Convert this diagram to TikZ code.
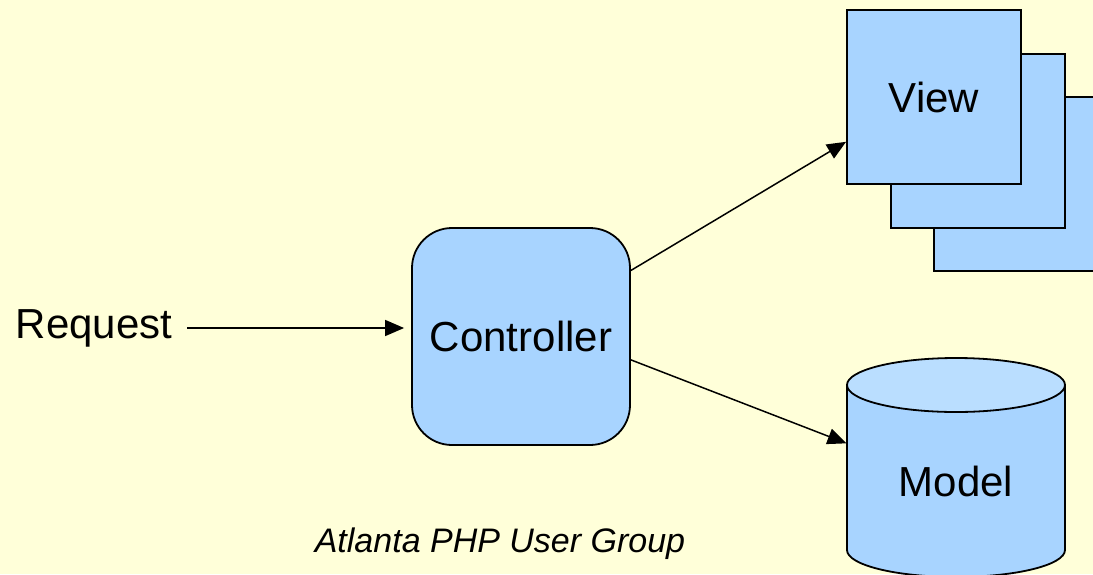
\documentclass[tikz,border=0pt]{standalone}
\usepackage{fontspec}
\setmainfont{Liberation Sans}
\usepackage{tikz}
\usetikzlibrary{arrows.meta,calc}
\definecolor{slidebg}{RGB}{255,255,217}
\definecolor{boxblue}{RGB}{168,212,255}
\definecolor{topblue}{RGB}{186,222,255}

\begin{document}
\begin{tikzpicture}[x=0.5pt,y=-0.5pt,
	big/.style={font=\fontsize{21}{25}\selectfont},
	box/.style={big,draw=black,line width=0.9pt,fill=boxblue},
	viewbox/.style={box,minimum size=87pt,inner sep=0pt},
	flow/.style={line width=0.75pt,-{Triangle[length=9.5pt,width=8pt]}}]
					\fill[slidebg] (0,0) rectangle (1093,574);
					\useasboundingbox (0,0) rectangle (1093,574);
					% controller and request
					\node[box,rounded corners=20pt,minimum width=109pt,minimum height=108.5pt] (ctrl) at (521,336.5) {Controller};
					\node[big] (req) at (94,328) {Request};
					\draw[flow,shorten <=4pt,shorten >=3.5pt] (req.east) -- (req.east -| ctrl.west);
					% stack of views
					\node[viewbox] (view3) at (1021,184) {};
					\node[viewbox] (view2) at (978,141) {};
					\node[viewbox] (view1) at (934,97) {View};
					% model cylinder
					\draw[line width=0.9pt,fill=boxblue] (847,385) -- (847,550) arc[start angle=180,end angle=0,x radius=109,y radius=27] -- (1065,385);
					\draw[line width=0.9pt,fill=topblue] (956,385) ellipse[x radius=109,y radius=27];
					\node[big,minimum width=109pt,minimum height=96pt,inner sep=0pt] (model) at (956,481) {Model};
					% connectors
					\draw[flow] (ctrl.31.4) -- (view1.207.3);
					\draw[flow] (ctrl.-12.2) -- (model.161);
					\node[font=\fontsize{17}{20}\selectfont\itshape] (group) at (500,544) {Atlanta PHP User Group};
				\end{tikzpicture}
\end{document}
